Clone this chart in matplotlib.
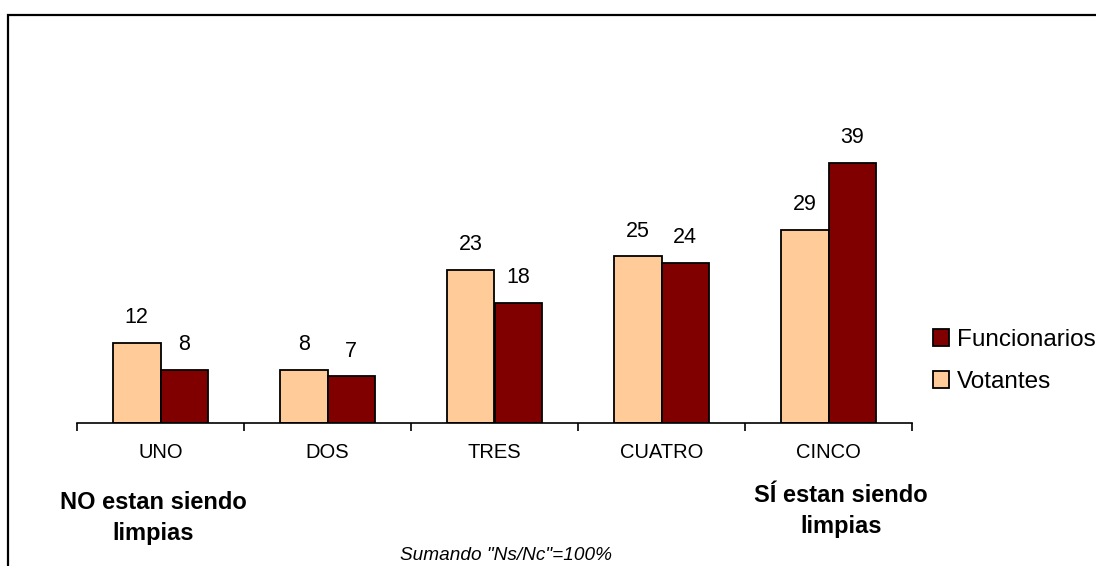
import matplotlib
matplotlib.use("Agg")
import matplotlib.pyplot as plt
from matplotlib.patches import Rectangle
import numpy as np

plt.rcParams['font.family'] = ['Liberation Sans', 'DejaVu Sans']

categories = ["UNO", "DOS", "TRES", "CUATRO", "CINCO"]
votantes = [12, 8, 23, 25, 29]
funcionarios = [8, 7, 18, 24, 39]

col_vot = "#FFCC99"
col_fun = "#800000"

W, H = 1096, 566
fig = plt.figure(figsize=(W / 100, H / 100), dpi=100)
ax = fig.add_axes([77 / W, 143 / H, 835 / W, 300 / H])

x = np.arange(len(categories))
bw = 0.285
b_vot = ax.bar(x - bw / 2, votantes, bw, color=col_vot, edgecolor="black", linewidth=1.3, label="Votantes")
b_fun = ax.bar(x + bw / 2, funcionarios, bw, color=col_fun, edgecolor="black", linewidth=1.3, label="Funcionarios")

ax.bar_label(b_vot, padding=10.5, fontsize=15.5)
ax.bar_label(b_fun, padding=10.5, fontsize=15.5)

ax.set_xlim(-0.5, len(categories) - 0.5)
ax.set_ylim(0, 45)

# category labels at centres, tick marks at the boundaries
ax.set_xticks(x)
ax.set_xticklabels(categories, fontsize=14.5)
ax.tick_params(axis="x", which="major", length=0, pad=14.5)
ax.set_xticks(np.arange(len(categories) + 1) - 0.5, minor=True)
ax.tick_params(axis="x", which="minor", length=6, width=1.2, direction="out")
ax.set_yticks([])
for s in ["left", "right", "top"]:
    ax.spines[s].set_visible(False)
ax.spines["bottom"].set_linewidth(1.2)

# legend, Funcionarios first
handles, labels = ax.get_legend_handles_labels()
leg = ax.legend(handles[::-1], labels[::-1], loc="center left",
                bbox_to_anchor=(933 / W, 1 - 361 / H), bbox_transform=fig.transFigure,
                frameon=False, fontsize=17.5, handlelength=0.65, handleheight=0.65,
                handletextpad=0.35, labelspacing=0.82, borderpad=0, borderaxespad=0)

fig.text(153 / W, 1 - 518 / H, "NO estan siendo\nlimpias", ha="center", va="center",
         fontsize=17, fontweight="bold", linespacing=1.42, multialignment="center")
fig.text(841 / W, 1 - 511 / H, "SÍ estan siendo\nlimpias", ha="center", va="center",
         fontsize=17, fontweight="bold", linespacing=1.42, multialignment="center")
fig.text(506 / W, 1 - 555 / H, 'Sumando "Ns/Nc"=100%', ha="center", va="center",
         fontsize=13.7, style="italic")

# outer frame, open on the right and bottom edges
fig.patches.append(Rectangle((7.5 / W, -0.1), 1.2, 1 - 14.5 / H + 0.1,
                             transform=fig.transFigure, fill=False,
                             edgecolor="black", linewidth=1.6))

fig.savefig("out.png", dpi=100)
